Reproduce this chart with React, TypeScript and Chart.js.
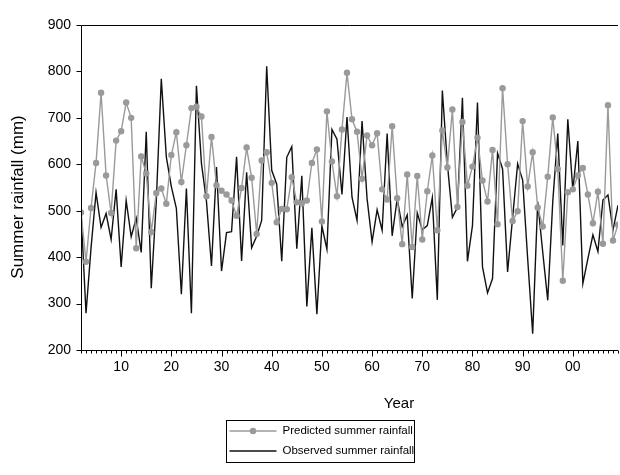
import React, { useEffect, useRef } from 'react';
import { Chart, registerables } from 'chart.js';

Chart.register(...registerables);

const years = [
  1902, 1903, 1904, 1905, 1906, 1907, 1908, 1909, 1910, 1911,
  1912, 1913, 1914, 1915, 1916, 1917, 1918, 1919, 1920, 1921,
  1922, 1923, 1924, 1925, 1926, 1927, 1928, 1929, 1930, 1931,
  1932, 1933, 1934, 1935, 1936, 1937, 1938, 1939, 1940, 1941,
  1942, 1943, 1944, 1945, 1946, 1947, 1948, 1949, 1950, 1951,
  1952, 1953, 1954, 1955, 1956, 1957, 1958, 1959, 1960, 1961,
  1962, 1963, 1964, 1965, 1966, 1967, 1968, 1969, 1970, 1971,
  1972, 1973, 1974, 1975, 1976, 1977, 1978, 1979, 1980, 1981,
  1982, 1983, 1984, 1985, 1986, 1987, 1988, 1989, 1990, 1991,
  1992, 1993, 1994, 1995, 1996, 1997, 1998, 1999, 2000, 2001,
  2002, 2003, 2004, 2005, 2006, 2007, 2008, 2009,
];

const predicted = [
  496, 390, 506, 603, 754, 576, 495, 651, 671, 733,
  700, 419, 617, 580, 454, 538, 548, 515, 620, 669,
  562, 641, 721, 724, 703, 531, 659, 555, 543, 535,
  522, 489, 549, 636, 571, 450, 608, 626, 560, 475,
  504, 503, 572, 518, 516, 522, 603, 632, 477, 714,
  606, 531, 675, 797, 697, 670, 569, 662, 641, 667,
  546, 524, 682, 527, 428, 578, 422, 575, 438, 542,
  619, 458, 673, 593, 718, 508, 691, 554, 595, 657,
  565, 520, 631, 471, 764, 600, 478, 499, 693, 552,
  626, 507, 466, 573, 701, 590, 349, 540, 546, 576,
  592, 535, 473, 541, 429, 727, 436, 470,
];

const observed = [
  498, 279, 420, 539, 464, 494, 438, 546, 379, 522,
  444, 484, 410, 670, 333, 520, 784, 616, 552, 505,
  320, 548, 279, 769, 602, 520, 381, 594, 370, 453,
  455, 616, 392, 583, 420, 445, 479, 811, 587, 557,
  391, 615, 638, 418, 575, 294, 463, 277, 467, 417,
  675, 654, 535, 702, 529, 479, 693, 526, 433, 502,
  458, 666, 446, 526, 466, 491, 311, 495, 459, 468,
  528, 308, 759, 601, 486, 507, 743, 391, 468, 733,
  379, 323, 354, 624, 590, 368, 485, 601, 566, 397,
  235, 519, 411, 307, 519, 666, 425, 697, 544, 650,
  343, 397, 448, 412, 523, 534, 458, 512,
];

const xTickYears = [1910, 1920, 1930, 1940, 1950, 1960, 1970, 1980, 1990, 2000];
const xTickLabels = ['10', '20', '30', '40', '50', '60', '70', '80', '90', '00'];
const yTicks = [200, 300, 400, 500, 600, 700, 800, 900];
const seriesNames = ['Predicted summer rainfall', 'Observed summer rainfall'];
const xTitle = 'Year';
const yTitle = 'Summer rainfall (mm)';

const FONT = '"Liberation Sans", Arial, Helvetica, sans-serif';
const GRAY = '#9a9a9a';
const BLACK = '#111111';

export default function App() {
  const ref = useRef<HTMLCanvasElement>(null);

  useEffect(() => {
    const canvas = ref.current;
    if (!canvas) return;

    const framePlugin = {
      id: 'framePlugin',
      afterDraw(chart: any) {
        const { ctx, chartArea: a, scales } = chart;
        const xs = scales.x;
        const ys = scales.y;
        const L = Math.round(a.left) + 0.5;
        const B = Math.round(a.bottom) + 0.5;
        const T = Math.round(a.top) + 0.5;
        ctx.save();
        ctx.strokeStyle = '#000';
        ctx.lineWidth = 1;
        ctx.beginPath();
        ctx.moveTo(L, T);
        ctx.lineTo(a.right, T);
        ctx.moveTo(L, T);
        ctx.lineTo(L, B);
        ctx.lineTo(a.right, B);
        years.forEach((yr) => {
          const px = Math.round(xs.getPixelForValue(yr)) + 0.5;
          const len = xTickYears.includes(yr) ? 6 : 3;
          ctx.moveTo(px, B);
          ctx.lineTo(px, B + len);
        });
        yTicks.forEach((v) => {
          const py = Math.round(ys.getPixelForValue(v)) + 0.5;
          ctx.moveTo(L - 5, py);
          ctx.lineTo(L, py);
        });
        ctx.stroke();

        // axis titles
        ctx.fillStyle = '#000';
        ctx.textBaseline = 'middle';
        ctx.textAlign = 'center';
        ctx.font = `15px ${FONT}`;
        ctx.fillText(xTitle, 399, 404);
        ctx.save();
        ctx.translate(18, 197);
        ctx.rotate(-Math.PI / 2);
        ctx.font = `17px ${FONT}`;
        ctx.fillText(yTitle, 0, 0);
        ctx.restore();

        // legend
        const bx = 226.5, by = 420.5, bw = 188, bh = 42;
        ctx.strokeStyle = '#000';
        ctx.lineWidth = 1;
        ctx.strokeRect(bx, by, bw, bh);
        const rows = [by + 10.5, by + 30.5];
        ctx.font = `11.5px ${FONT}`;
        ctx.textAlign = 'left';
        // predicted
        ctx.strokeStyle = GRAY;
        ctx.lineWidth = 1.4;
        ctx.beginPath();
        ctx.moveTo(bx + 3, rows[0]);
        ctx.lineTo(bx + 50, rows[0]);
        ctx.stroke();
        ctx.fillStyle = GRAY;
        ctx.beginPath();
        ctx.arc(bx + 26.5, rows[0], 3.2, 0, Math.PI * 2);
        ctx.fill();
        ctx.fillStyle = '#000';
        ctx.fillText(seriesNames[0], bx + 56, rows[0]);
        // observed
        ctx.strokeStyle = BLACK;
        ctx.lineWidth = 1.4;
        ctx.beginPath();
        ctx.moveTo(bx + 3, rows[1]);
        ctx.lineTo(bx + 50, rows[1]);
        ctx.stroke();
        ctx.fillText(seriesNames[1], bx + 56, rows[1]);
        ctx.restore();
      },
    };

    const chart = new Chart(canvas, {
      type: 'line',
      data: {
        datasets: [
          {
            label: seriesNames[0],
            data: years.map((x, i) => ({ x, y: predicted[i] })),
            borderColor: GRAY,
            backgroundColor: GRAY,
            borderWidth: 1.4,
            pointRadius: 3.2,
            pointBorderWidth: 0,
            pointBackgroundColor: GRAY,
            tension: 0,
          },
          {
            label: seriesNames[1],
            data: years.map((x, i) => ({ x, y: observed[i] })),
            borderColor: BLACK,
            backgroundColor: BLACK,
            borderWidth: 1.4,
            pointRadius: 0,
            tension: 0,
          },
        ],
      },
      options: {
        animation: false,
        responsive: false,
        devicePixelRatio: 1,
        layout: { padding: { top: 25, right: 0, bottom: 0, left: 0 } },
        plugins: {
          legend: { display: false },
          tooltip: { enabled: false },
          title: { display: false },
        },
        scales: {
          x: {
            type: 'linear',
            min: 1902,
            max: 2009,
            grid: { display: false, drawTicks: false },
            border: { display: false },
            afterBuildTicks: (scale: any) => {
              scale.ticks = xTickYears.map((v) => ({ value: v }));
            },
            afterFit: (scale: any) => {
              scale.height = 125;
            },
            ticks: {
              autoSkip: false,
              maxRotation: 0,
              padding: 9,
              color: '#000',
              font: { family: FONT, size: 14 },
              callback: (value: any) => {
                const i = xTickYears.indexOf(Number(value));
                return i >= 0 ? xTickLabels[i] : '';
              },
            },
          },
          y: {
            type: 'linear',
            min: 200,
            max: 900,
            grid: { display: false, drawTicks: false },
            border: { display: false },
            afterBuildTicks: (scale: any) => {
              scale.ticks = yTicks.map((v) => ({ value: v }));
            },
            afterFit: (scale: any) => {
              scale.width = 81;
            },
            ticks: {
              padding: 10,
              color: '#000',
              font: { family: FONT, size: 14 },
            },
          },
        },
      },
      plugins: [framePlugin],
    });

    return () => chart.destroy();
  }, []);

  return (
    <div
      style={{
        position: 'absolute',
        left: 0,
        top: 0,
        width: 620,
        height: 475,
        overflow: 'hidden',
        background: '#fff',
      }}
    >
      <canvas ref={ref} width={622} height={475} style={{ display: 'block' }} />
    </div>
  );
}
